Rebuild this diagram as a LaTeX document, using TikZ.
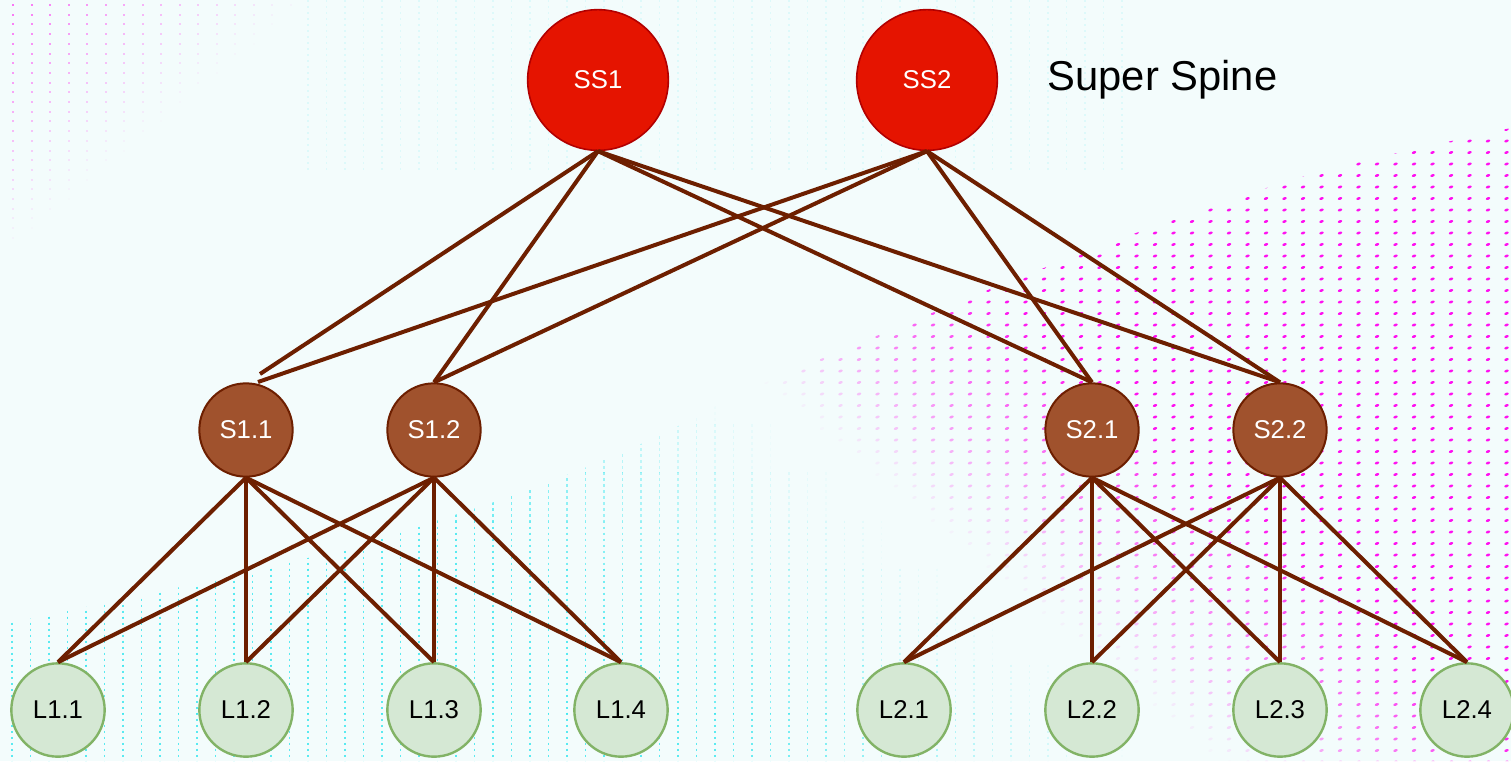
\documentclass[tikz,border=0pt]{standalone}
\usepackage{fontspec}
\setmainfont{Liberation Sans}
\definecolor{bgcol}{HTML}{F3FCFC}
\definecolor{ssred}{HTML}{E51400}
\definecolor{ssedge}{HTML}{B20000}
\definecolor{spfill}{HTML}{A0522D}
\definecolor{brownline}{HTML}{6D1F00}
\definecolor{leaffill}{HTML}{D5E8D4}
\definecolor{leafedge}{HTML}{82B366}
\definecolor{dotmag}{HTML}{FF10F0}
\definecolor{dotcyan}{HTML}{40E8F0}
\tikzset{
  ssnode/.style={circle, fill=ssred, draw=ssedge, line width=1.2pt,
    minimum size=105.5pt, inner sep=0pt, text=white,
    font=\fontsize{19.3}{23}\selectfont},
  spnode/.style={circle, fill=spfill, draw=brownline, line width=1.5pt,
    minimum size=70pt, inner sep=0pt, text=white,
    font=\fontsize{19.3}{23}\selectfont},
  lfnode/.style={circle, fill=leaffill, draw=leafedge, line width=1.8pt,
    minimum size=70pt, inner sep=0pt, text=black,
    font=\fontsize{19.3}{23}\selectfont},
  link/.style={draw=brownline, line width=3pt},
  cyancol/.style={draw=dotcyan, line width=1.4pt, dash pattern=on 1.8pt off 2.7pt},
}
\begin{document}
\begin{tikzpicture}[x=0.75pt, y=-0.75pt]
\useasboundingbox (0,0) rectangle (1511,761);
\fill[bgcol] (0,0) rectangle (1511,761);

% faint magenta dots in the upper left corner
\foreach \i in {0,...,16} {
  \foreach \j in {0,...,25} {
    \pgfmathsetmacro\xx{12+18.5*\i}
    \pgfmathsetmacro\yy{4+9.7*\j}
    \pgfmathsetmacro\op{max(0,0.6*(1-\xx/310-\yy/260))}
    \ifdim\op pt>0.01pt
      \fill[dotmag, opacity=\op] (\xx,\yy) rectangle ++(2,2);
    \fi
  }
}

% faint cyan columns along the top
\foreach \i in {16,...,60} {
  \pgfmathsetmacro\xx{12+18.5*\i}
  \draw[cyancol, opacity=0.12] (\xx,0) -- (\xx,170);
}

% dotted wave under the curved edge
\begin{scope}
  \clip plot[smooth] coordinates {(0,625) (300,560) (500,500) (643,443)
    (753,388) (903,325) (1013,280) (1180,217) (1327,170) (1511,128)}
    -- (1511,761) -- (0,761) -- cycle;
  % cyan dashed columns, strongest in the lower left
  \foreach \i in {0,...,60} {
    \foreach \k in {0,...,9} {
      \pgfmathsetmacro\xx{12+18.5*\i}
      \pgfmathsetmacro\ya{280+48.1*\k}
      \pgfmathsetmacro\yb{\ya+48.1}
      \pgfmathsetmacro\op{max(0,min(0.85,(250-\xx+1.2*(\ya+24))/500))}
      \ifdim\op pt>0.02pt
        \draw[cyancol, opacity=\op] (\xx,\ya) -- (\xx,\yb);
      \fi
    }
  }
  % magenta dots, strongest in the upper right
  \foreach \i in {0,...,41} {
    \foreach \j in {0,...,56} {
      \pgfmathsetmacro\xx{748+18.5*\i}
      \pgfmathsetmacro\yy{118+11.5*\j}
      \pgfmathsetmacro\op{max(0,min(1,(\xx-1.2*\yy-300)/350))}
      \ifdim\op pt>0.02pt
        \fill[dotmag, opacity=\op, rotate around={20:(\xx,\yy)}] (\xx,\yy) ellipse (2.3 and 1.3);
      \fi
    }
  }
\end{scope}

% super spine layer
\node[ssnode] (ss1) at (598,80) {SS1};
\node[ssnode] (ss2) at (927,80) {SS2};
\node[anchor=west, font=\fontsize{31.3}{36}\selectfont] (title) at (1043,80) {Super Spine};

% spine layer
\node[spnode] (s11) at (246,430) {S1.1};
\node[spnode] (s12) at (434,430) {S1.2};
\node[spnode] (s21) at (1092,430) {S2.1};
\node[spnode] (s22) at (1280,430) {S2.2};

% leaf layer
\node[lfnode] (l11) at (58,710) {L1.1};
\node[lfnode] (l12) at (246,710) {L1.2};
\node[lfnode] (l13) at (434,710) {L1.3};
\node[lfnode] (l14) at (621,710) {L1.4};
\node[lfnode] (l21) at (904,710) {L2.1};
\node[lfnode] (l22) at (1092,710) {L2.2};
\node[lfnode] (l23) at (1280,710) {L2.3};
\node[lfnode] (l24) at (1467,710) {L2.4};

% the two uplinks of S1.1 meet it just right of its top
\coordinate (s11a) at (260,374);
\coordinate (s11b) at (258,382);

% super spine to spine links
\draw[link] (ss1.south) -- (s11a);
\draw[link] (ss1.south) -- (s12.north);
\draw[link] (ss1.south) -- (s21.north);
\draw[link] (ss1.south) -- (s22.north);
\draw[link] (ss2.south) -- (s11b);
\draw[link] (ss2.south) -- (s12.north);
\draw[link] (ss2.south) -- (s21.north);
\draw[link] (ss2.south) -- (s22.north);

% spine to leaf links
\foreach \s in {s11,s12} {
  \foreach \l in {l11,l12,l13,l14} {
    \draw[link] (\s.south) -- (\l.north);
  }
}
\foreach \s in {s21,s22} {
  \foreach \l in {l21,l22,l23,l24} {
    \draw[link] (\s.south) -- (\l.north);
  }
}
\end{tikzpicture}
\end{document}
